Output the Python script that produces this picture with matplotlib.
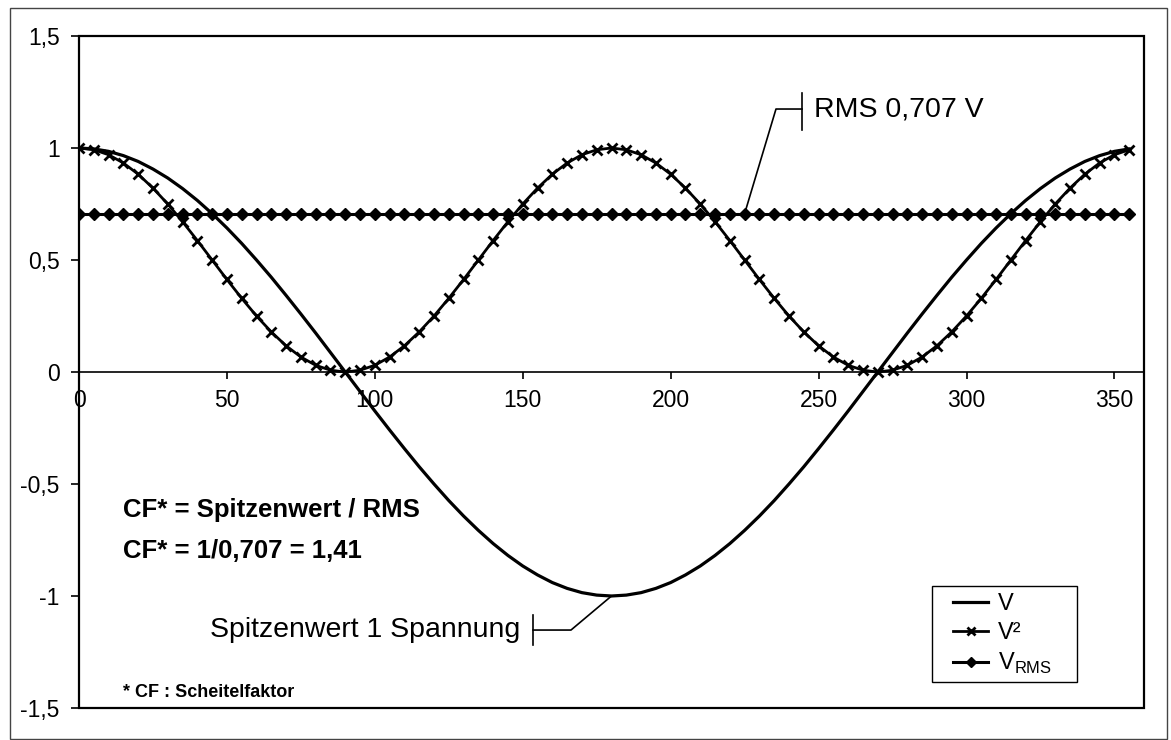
import matplotlib
matplotlib.use("Agg")
import matplotlib.pyplot as plt
from matplotlib.patches import Rectangle

plt.rcParams["font.family"] = ["Liberation Sans", "DejaVu Sans"]
plt.rcParams["mathtext.fontset"] = "custom"
plt.rcParams["mathtext.rm"] = "Liberation Sans"

# phase angle in degrees, one sample every 5 degrees
angle = list(range(0, 360, 5))

# voltage (peak 1)
v = [1.000, 0.996, 0.985, 0.966, 0.940, 0.906, 0.866, 0.819, 0.766, 0.707,
     0.643, 0.574, 0.500, 0.423, 0.342, 0.259, 0.174, 0.087, 0.000, -0.087,
     -0.174, -0.259, -0.342, -0.423, -0.500, -0.574, -0.643, -0.707, -0.766, -0.819,
     -0.866, -0.906, -0.940, -0.966, -0.985, -0.996, -1.000, -0.996, -0.985, -0.966,
     -0.940, -0.906, -0.866, -0.819, -0.766, -0.707, -0.643, -0.574, -0.500, -0.423,
     -0.342, -0.259, -0.174, -0.087, 0.000, 0.087, 0.174, 0.259, 0.342, 0.423,
     0.500, 0.574, 0.643, 0.707, 0.766, 0.819, 0.866, 0.906, 0.940, 0.966,
     0.985, 0.996]

# squared voltage
v_sq = [1.000, 0.992, 0.970, 0.933, 0.883, 0.821, 0.750, 0.671, 0.587, 0.500,
        0.413, 0.329, 0.250, 0.179, 0.117, 0.067, 0.030, 0.008, 0.000, 0.008,
        0.030, 0.067, 0.117, 0.179, 0.250, 0.329, 0.413, 0.500, 0.587, 0.671,
        0.750, 0.821, 0.883, 0.933, 0.970, 0.992, 1.000, 0.992, 0.970, 0.933,
        0.883, 0.821, 0.750, 0.671, 0.587, 0.500, 0.413, 0.329, 0.250, 0.179,
        0.117, 0.067, 0.030, 0.008, 0.000, 0.008, 0.030, 0.067, 0.117, 0.179,
        0.250, 0.329, 0.413, 0.500, 0.587, 0.671, 0.750, 0.821, 0.883, 0.933,
        0.970, 0.992]

rms = 0.707
v_rms = [rms] * len(angle)

x_ticks = [0, 50, 100, 150, 200, 250, 300, 350]
y_ticks = [-1.5, -1.0, -0.5, 0.0, 0.5, 1.0, 1.5]
y_tick_labels = ["-1,5", "-1", "-0,5", "0", "0,5", "1", "1,5"]

W, H = 1171, 740
fig = plt.figure(figsize=(W / 100, H / 100), dpi=100)
ax = fig.add_axes([79 / W, 1 - 708 / H, (1144 - 79) / W, (708 - 36) / H])

line_v, = ax.plot(angle, v, color="black", lw=2.3, label="V")
line_sq, = ax.plot(angle, v_sq, color="black", lw=2.0, marker="x",
                   markersize=7.5, markeredgewidth=2.0, label="V²")
line_rms, = ax.plot(angle, v_rms, color="black", lw=2.2, marker="D",
                    markersize=6.5, label=r"V$_\mathrm{RMS}$")

ax.set_xlim(0, 360)
ax.set_ylim(-1.5, 1.5)

# x axis crosses at zero, plot area drawn as a separate box
for side in ["top", "right", "left"]:
    ax.spines[side].set_visible(False)
ax.spines["bottom"].set_position(("data", 0))
ax.spines["bottom"].set_linewidth(1.2)
ax.add_patch(Rectangle((0, 0), 1, 1, transform=ax.transAxes, fill=False,
                       edgecolor="black", lw=1.6, clip_on=False, zorder=5))

ax.set_xticks(x_ticks)
ax.set_yticks(y_ticks)
ax.set_yticklabels(y_tick_labels)
ax.tick_params(axis="x", direction="out", length=5, width=1.2, pad=7,
               labelsize=16.5)
ax.tick_params(axis="y", direction="out", length=6, width=1.2, pad=8,
               labelsize=16.5)

# leader + label for the RMS line
i_rms = angle.index(225)
x0, y0 = angle[i_rms], v_rms[i_rms]
ax.plot([x0, 235.6, 244.4], [y0, 1.174, 1.174], color="black", lw=1.2)
ax.plot([244.4, 244.4], [1.08, 1.246], color="black", lw=1.2)
ax.text(248.5, 1.174, "RMS 0,707 V", fontsize=20.5, va="center", ha="left")

# leader + label for the peak
i_pk = angle.index(180)
x1, y1 = angle[i_pk], v[i_pk]
ax.plot([x1, 166.3, 153.5], [y1, -1.152, -1.152], color="black", lw=1.2)
ax.plot([153.5, 153.5], [-1.085, -1.219], color="black", lw=1.2)
ax.text(149, -1.152, "Spitzenwert 1 Spannung", fontsize=20.5, va="center",
        ha="right")

ax.text(15, -0.616, "CF* = Spitzenwert / RMS", fontsize=18.5,
        fontweight="bold", va="center")
ax.text(15, -0.80, "CF* = 1/0,707 = 1,41", fontsize=18.5,
        fontweight="bold", va="center")
ax.text(15, -1.43, "* CF : Scheitelfaktor", fontsize=13, fontweight="bold",
        va="center")

# legend without its own frame; the box is drawn separately for wider padding
ax.add_patch(Rectangle((932 / W, 1 - 682 / H), (1077 - 932) / W,
                       (682 - 586) / H, transform=fig.transFigure,
                       facecolor="white", edgecolor="black", lw=1.0,
                       clip_on=False, zorder=6))
leg = ax.legend(handles=[line_v, line_sq, line_rms], loc="upper left",
                bbox_to_anchor=(953 / W, 1 - 593 / H),
                bbox_transform=fig.transFigure, fontsize=17, frameon=False,
                handlelength=1.5, handletextpad=0.4, labelspacing=0.3,
                borderpad=0, borderaxespad=0, markerscale=0.8)
leg.set_zorder(7)

# outer chart border
fig.patches.append(Rectangle((10 / W, 1 - 739 / H), (1167 - 10) / W,
                             (739 - 8) / H, transform=fig.transFigure,
                             fill=False, edgecolor="#444444", lw=1.0))

fig.savefig("out.png", dpi=100)
